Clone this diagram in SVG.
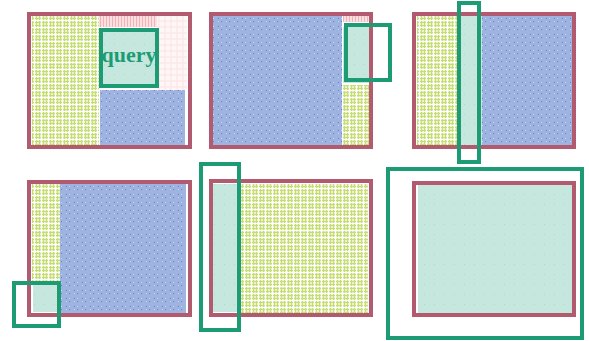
<svg xmlns="http://www.w3.org/2000/svg" width="589" height="341" viewBox="0 0 589 341">
<defs>
<pattern id="pYel" width="7" height="7" patternUnits="userSpaceOnUse">
<rect width="7" height="7" fill="#eaf3cc"/>
<path d="M0 1.5H7M0 4.5H7M1.5 0V7M4.5 0V7" stroke="#c6dd76" stroke-width="1"/>
<path d="M0 6.5H7M6.5 0V7" stroke="#ffffff" stroke-width="1"/>
</pattern>
<pattern id="pBlue" width="8" height="8" patternUnits="userSpaceOnUse">
<rect width="8" height="8" fill="#9fb3e0"/>
<rect x="2" y="2" width="1" height="1" fill="#5f7fcf"/>
<rect x="5" y="5" width="1" height="1" fill="#5f7fcf"/>
<rect x="5" y="2" width="1" height="1" fill="#c7d3ef"/>
<rect x="2" y="5" width="1" height="1" fill="#c7d3ef"/>
</pattern>
<pattern id="pTeal" width="10" height="10" patternUnits="userSpaceOnUse">
<rect width="10" height="10" fill="#c5e7dd"/>
<rect x="4" y="4" width="1" height="1" fill="#aad8cb"/>
</pattern>
<pattern id="pPink" width="3" height="3" patternUnits="userSpaceOnUse">
<rect width="3" height="3" fill="#fbdfe1"/>
<path d="M1.5 0V3" stroke="#f1b3b8" stroke-width="1"/>
</pattern>
<pattern id="pLPink" width="6" height="6" patternUnits="userSpaceOnUse">
<rect width="6" height="6" fill="#fff6f6"/>
<path d="M0 3H6M3 0V6" stroke="#fbe3e5" stroke-width="1"/>
</pattern>
</defs>
<style>
.frame{fill:none;stroke:#b25b70;stroke-width:4}
.q{fill:none;stroke:#1d9b74;stroke-width:4}
.yel{fill:url(#pYel)}
.blue{fill:url(#pBlue)}
.teal{fill:url(#pTeal)}
.pink{fill:url(#pPink)}
.lpink{fill:url(#pLPink)}
.lbl{font-family:"Liberation Serif",serif;font-weight:bold;font-size:22px;fill:#1d9b74}
</style>
<g id="panel1">
<rect class="yel" x="32" y="16" width="67" height="130"/>
<rect class="pink" x="99" y="16" width="58" height="11"/>
<rect class="lpink" x="157" y="16" width="30" height="74"/>
<rect class="blue" x="100" y="90" width="85" height="55"/>
<rect class="frame" x="29" y="14" width="161" height="133"/>
<rect class="teal" x="101" y="30" width="56" height="56"/>
<rect class="q" x="101" y="30" width="56" height="56"/>
<text class="lbl" x="129" y="62" text-anchor="middle">query</text>
</g>
<g id="panel2">
<rect class="blue" x="213" y="16" width="129" height="129"/>
<rect class="pink" x="343" y="16" width="26" height="6"/>
<rect class="teal" x="343" y="27" width="26" height="56"/>
<rect class="yel" x="343" y="85" width="26" height="60"/>
<rect class="frame" x="211" y="14" width="160" height="133"/>
<rect class="q" x="346" y="25" width="44" height="55"/>
</g>
<g id="panel3">
<rect class="yel" x="417" y="16" width="40" height="129"/>
<rect class="teal" x="457" y="16" width="25" height="129"/>
<rect class="blue" x="482" y="16" width="90" height="129"/>
<rect class="frame" x="414" y="14" width="160" height="133"/>
<rect class="q" x="459" y="3" width="20" height="159"/>
</g>
<g id="panel4">
<rect class="yel" x="32" y="184" width="28" height="98"/>
<rect class="blue" x="60" y="184" width="126" height="129"/>
<rect class="teal" x="33" y="285" width="24" height="27"/>
<rect class="frame" x="29" y="182" width="161" height="133"/>
<rect class="q" x="14" y="283" width="45" height="43"/>
</g>
<g id="panel5">
<rect class="teal" x="213" y="184" width="24" height="128"/>
<rect class="yel" x="237" y="184" width="131" height="129"/>
<rect class="frame" x="211" y="181" width="160" height="134"/>
<rect class="q" x="201" y="164" width="38" height="166"/>
</g>
<g id="panel6">
<rect class="teal" x="418" y="185" width="154" height="128"/>
<rect class="frame" x="414" y="183" width="160" height="132"/>
<rect class="q" x="388" y="169" width="194" height="169"/>
</g>
<g id="connectors"/>
</svg>
